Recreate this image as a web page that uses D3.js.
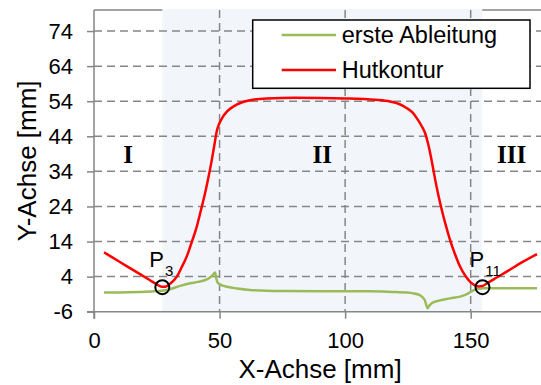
<!DOCTYPE html>
<html>
<head>
<meta charset="utf-8">
<script src="https://cdn.jsdelivr.net/npm/d3@7"></script>
<style>
  body { margin: 0; background: #fff; }
  svg { display: block; font-family: 'Liberation Sans', Arial, sans-serif; }
</style>
</head>
<body>
<div id="chart"></div>
<script>
// Hutkontur (red)
const hutX = [4, 10, 16, 22, 25, 27, 28.5, 30.3, 33, 35, 36.9, 38.9, 40.9, 42.6, 44.2, 45.6, 46.9, 48, 48.9, 50, 51, 53, 55.5, 59, 62.2, 68.8, 80, 100, 112, 117.9, 121.5, 124.6, 126.8, 128.6, 130.4, 131.9, 133, 133.9, 135, 135.9, 137.2, 138.5, 140.1, 141.8, 143.8, 145.8, 147.8, 149.8, 151.5, 153.1, 154.7, 156.5, 160, 165, 170, 176.4];
const hutY = [10.9, 8.3, 5.7, 3.1, 1.8, 1.1, 1.1, 2.0, 4.0, 6.8, 9.7, 13.8, 18.2, 23, 27.7, 32.4, 37.2, 41.8, 45.5, 47.8, 49.2, 51.1, 52.5, 53.7, 54.3, 54.8, 55.0, 54.8, 54.4, 53.9, 53.2, 52.0, 50.8, 49.1, 47.0, 44.8, 42, 39.1, 35, 31.5, 27, 23.0, 18.6, 14.4, 10.3, 6.8, 4.3, 2.5, 1.6, 1.2, 1.3, 2.1, 3.6, 5.7, 7.9, 10.4];

// erste Ableitung (green)
const ablX = [4, 10, 18, 24, 27, 30.3, 34, 38.3, 41.5, 44.9, 47, 48.2, 48.7, 49.3, 51, 53, 57, 62, 75, 98, 110, 120, 124.6, 127.5, 130, 131.8, 132.8, 133.6, 134.5, 137, 141.8, 145.8, 148.5, 151.1, 153, 155.1, 165, 176.4];
const ablY = [-0.5, -0.5, -0.4, -0.2, 0.0, 0.4, 1.3, 2.1, 2.5, 3.2, 4.2, 5.2, 3.5, 2.2, 1.5, 1.1, 0.6, 0.2, -0.1, -0.2, -0.2, -0.4, -0.5, -0.8, -1.4, -2.8, -5.0, -4.2, -3.6, -2.9, -2.2, -1.7, -1.0, 0.1, 0.5, 0.7, 0.7, 0.7];

const seriesNames = ['erste Ableitung', 'Hutkontur'];
const seriesColors = ['#9bbb59', '#ff0000'];

const xTicks = [0, 50, 100, 150];
const yTicks = [-6, 4, 14, 24, 34, 44, 54, 64, 74];

// marked points P3, P11 and the region boundaries
const pointNames = ['3', '11'];
const pointX = [27.2, 154.7];
const pointY = [1.0, 1.0];
const regionBounds = [0, 27.2, 154.6, 178];
const regionLabels = ['I', 'II', 'III'];
const regionLabelY = 36.4;

const W = 541, H = 385;
const M = {TOP: 10, LEFT: 94, RIGHT: 0, BOTTOM: 73.3};

const x = d3.scaleLinear().domain([0, 178]).range([M.LEFT, W - M.RIGHT]);
const y = d3.scaleLinear().domain([-6, 80]).range([H - M.BOTTOM, M.TOP]);

const svg = d3.select('#chart').append('svg')
  .attr('width', W)
  .attr('height', H);

const gray = '#868686';

// frame top
svg.append('line')
  .attr('x1', x(0)).attr('x2', W)
  .attr('y1', y(80)).attr('y2', y(80))
  .attr('stroke', gray).attr('stroke-width', 1.5);

// shaded region II
svg.append('rect')
  .attr('x', x(regionBounds[1]))
  .attr('y', y(80) - 1)
  .attr('width', x(regionBounds[2]) - x(regionBounds[1]))
  .attr('height', y(-6) - y(80) + 1)
  .attr('fill', '#f2f6fb');

// gridlines
svg.append('g').selectAll('line')
  .data(yTicks.filter(d => d > -6))
  .enter().append('line')
    .attr('x1', x(0)).attr('x2', W)
    .attr('y1', d => y(d)).attr('y2', d => y(d))
    .attr('stroke', gray).attr('stroke-width', 1.5)
    .attr('stroke-dasharray', '8,5');

svg.append('g').selectAll('line')
  .data(xTicks.filter(d => d > 0))
  .enter().append('line')
    .attr('x1', d => x(d)).attr('x2', d => x(d))
    .attr('y1', y(80)).attr('y2', y(-6))
    .attr('stroke', gray).attr('stroke-width', 1.5)
    .attr('stroke-dasharray', '8,5');

// axes (plain hyphen for negatives, like the original)
const fmt = d => String(d);
const xAxis = svg.append('g')
  .attr('transform', `translate(0, ${y(-6)})`)
  .call(d3.axisBottom(x).tickValues(xTicks).tickFormat(fmt).tickSize(7).tickSizeOuter(0).tickPadding(14));
const yAxis = svg.append('g')
  .attr('transform', `translate(${x(0)}, 0)`)
  .call(d3.axisLeft(y).tickValues(yTicks).tickFormat(fmt).tickSize(7).tickSizeOuter(0).tickPadding(14));

[xAxis, yAxis].forEach(a => {
  a.select('.domain').attr('stroke', gray).attr('stroke-width', 1.5);
  a.selectAll('.tick line').attr('stroke', gray).attr('stroke-width', 1.5);
  a.selectAll('.tick text')
    .attr('fill', '#000')
    .attr('font-size', '22px')
    .attr('font-family', "'Liberation Sans', Arial, sans-serif");
});
yAxis.select('.domain').attr('d', `M0,${y(80)}V${y(-6) + 7}`);
xAxis.select('.domain').attr('d', `M${x(0) - 7},0H${W}`);

// axis titles
svg.append('text')
  .attr('x', 320).attr('y', 378)
  .attr('text-anchor', 'middle')
  .attr('font-size', '26px')
  .text('X-Achse [mm]');

svg.append('text')
  .attr('transform', `translate(36, ${(y(-6) + y(80)) / 2}) rotate(-90)`)
  .attr('text-anchor', 'middle')
  .attr('font-size', '26px')
  .text('Y-Achse [mm]');

// region labels
svg.append('g').selectAll('text')
  .data(regionLabels)
  .enter().append('text')
    .attr('x', (d, i) => x((regionBounds[i] + regionBounds[i + 1]) / 2))
    .attr('y', y(regionLabelY))
    .attr('text-anchor', 'middle')
    .attr('font-family', "'Liberation Serif', 'Times New Roman', serif")
    .attr('font-weight', 'bold')
    .attr('font-size', '25px')
    .text(d => d);

// curves
const line = d3.line()
  .x(d => x(d[0]))
  .y(d => y(d[1]))
  .curve(d3.curveMonotoneX);

svg.append('path')
  .datum(ablX.map((v, i) => [v, ablY[i]]))
  .attr('d', line)
  .attr('fill', 'none')
  .attr('stroke', seriesColors[0])
  .attr('stroke-width', 2.5);

svg.append('path')
  .datum(hutX.map((v, i) => [v, hutY[i]]))
  .attr('d', line)
  .attr('fill', 'none')
  .attr('stroke', seriesColors[1])
  .attr('stroke-width', 2.5);

// marked points
svg.append('g').selectAll('circle')
  .data(pointX)
  .enter().append('circle')
    .attr('cx', d => x(d))
    .attr('cy', (d, i) => y(pointY[i]))
    .attr('r', 7)
    .attr('fill', 'none')
    .attr('stroke', '#000')
    .attr('stroke-width', 2);

const pLabels = svg.append('g').selectAll('text')
  .data(pointNames)
  .enter().append('text')
    .attr('x', (d, i) => x(pointX[i]) - 13)
    .attr('y', (d, i) => y(pointY[i]) - 20)
    .attr('font-size', '22px');
pLabels.append('tspan').text('P');
pLabels.append('tspan')
  .attr('font-size', '15px')
  .attr('dy', 9)
  .attr('dx', 1)
  .text(d => d);

// legend
const legend = svg.append('g');
legend.append('rect')
  .attr('x', 252.7).attr('y', 20)
  .attr('width', 277.3).attr('height', 68.3)
  .attr('fill', '#fff')
  .attr('stroke', '#000')
  .attr('stroke-width', 1.5);

const items = legend.selectAll('g.item')
  .data(seriesNames)
  .enter().append('g')
    .attr('class', 'item')
    .attr('transform', (d, i) => `translate(0, ${35 + i * 35})`);
items.append('line')
  .attr('x1', 281.7).attr('x2', 336)
  .attr('stroke', (d, i) => seriesColors[i])
  .attr('stroke-width', 2.5);
items.append('text')
  .attr('x', 341.7).attr('y', 8.3)
  .attr('font-size', '23.5px')
  .text(d => d);
</script>
</body>
</html>
